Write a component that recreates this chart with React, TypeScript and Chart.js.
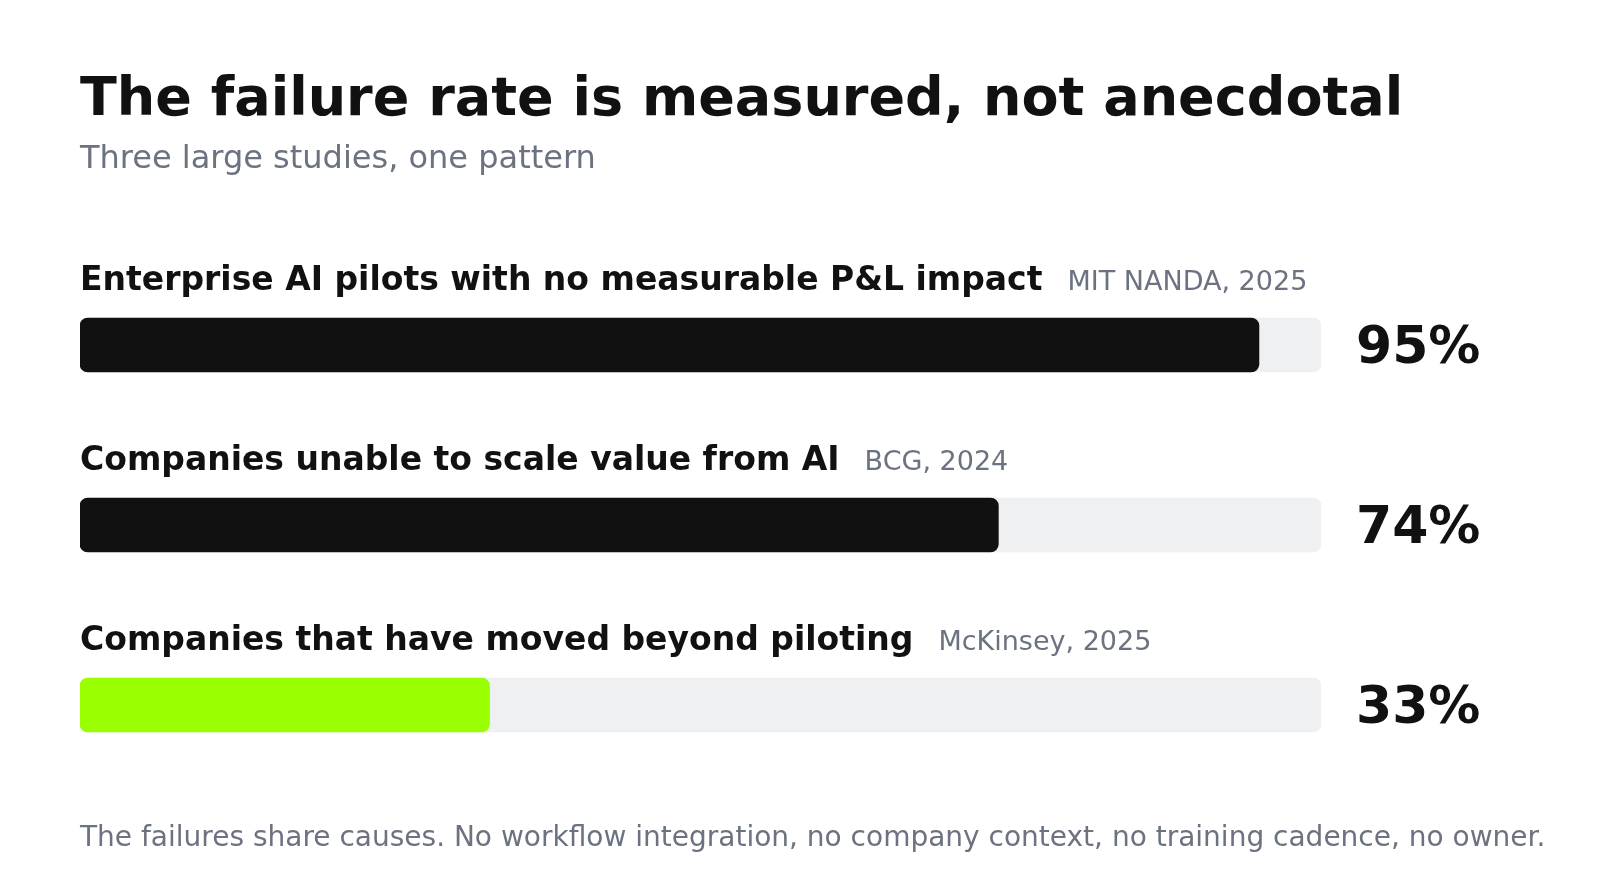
import React, { useEffect, useRef } from "react";
import { Chart, registerables } from "chart.js";

Chart.register(...registerables);

const TITLE = "The failure rate is measured, not anecdotal";
const SUBTITLE = "Three large studies, one pattern";
const FOOTNOTE =
  "The failures share causes. No workflow integration, no company context, no training cadence, no owner.";

const categories = [
  "Enterprise AI pilots with no measurable P&L impact",
  "Companies unable to scale value from AI",
  "Companies that have moved beyond piloting",
];
const sources = ["MIT NANDA, 2025", "BCG, 2024", "McKinsey, 2025"];
const values = [95, 74, 33];
const trackValues = [100, 100, 100];
const barColors = ["#111111", "#111111", "#99ff00"];

const FONT = "'DejaVu Sans', sans-serif";
const GRAY = "#6b7280";
const INK = "#111111";

const textPlugin = {
  id: "textPlugin",
  afterDraw(chart: any) {
    const ctx = chart.ctx as CanvasRenderingContext2D;
    const left = chart.chartArea.left;
    const yScale = chart.scales.y;
    const xScale = chart.scales.x;
    ctx.save();
    ctx.textAlign = "left";
    ctx.textBaseline = "alphabetic";

    ctx.fillStyle = INK;
    ctx.font = `bold 54px ${FONT}`;
    ctx.fillText(TITLE, left, 115);

    ctx.fillStyle = GRAY;
    ctx.font = `32px ${FONT}`;
    ctx.fillText(SUBTITLE, left, 168);

    const meta = chart.getDatasetMeta(1);
    categories.forEach((cat, i) => {
      const yc = yScale.getPixelForValue(i);
      const bar = meta.data[i];
      const top = yc - (bar ? bar.height / 2 : 27);
      ctx.fillStyle = INK;
      ctx.font = `bold 33px ${FONT}`;
      ctx.fillText(cat, left, top - 28.5);
      const w = ctx.measureText(cat).width;
      ctx.fillStyle = GRAY;
      ctx.font = `27px ${FONT}`;
      ctx.fillText(sources[i], left + w + 25, top - 28.5);

      ctx.fillStyle = INK;
      ctx.font = `bold 52px ${FONT}`;
      ctx.fillText(`${values[i]}%`, xScale.getPixelForValue(100) + 35, yc + 18);
    });

    ctx.fillStyle = GRAY;
    ctx.font = `28px ${FONT}`;
    ctx.fillText(FOOTNOTE, left, 846);
    ctx.restore();
  },
};

export default function App() {
  const ref = useRef<HTMLCanvasElement | null>(null);
  useEffect(() => {
    if (!ref.current) return;
    const chart = new Chart(ref.current, {
      type: "bar",
      data: {
        labels: categories,
        datasets: [
          {
            label: "track",
            data: trackValues,
            backgroundColor: "#eff0f2",
            borderRadius: 8,
            borderSkipped: false,
            barThickness: 54,
            grouped: false,
            order: 2,
          } as any,
          {
            label: "value",
            data: values,
            backgroundColor: barColors,
            borderRadius: 8,
            borderSkipped: false,
            barThickness: 54,
            grouped: false,
            order: 1,
          } as any,
        ],
      },
      options: {
        indexAxis: "y",
        responsive: false,
        animation: false,
        layout: { padding: { left: 80, right: 279, top: 255, bottom: 85 } },
        scales: {
          x: { display: false, min: 0, max: 100 },
          y: { display: false },
        },
        plugins: {
          legend: { display: false },
          tooltip: { enabled: false },
          title: { display: false },
        },
      },
      plugins: [textPlugin],
    });
    return () => chart.destroy();
  }, []);
  return (
    <div style={{ position: "fixed", left: 0, top: 0, width: 1600, height: 880, background: "#ffffff" }}>
      <canvas ref={ref} width={1600} height={880} style={{ width: 1600, height: 880, display: "block" }} />
    </div>
  );
}
